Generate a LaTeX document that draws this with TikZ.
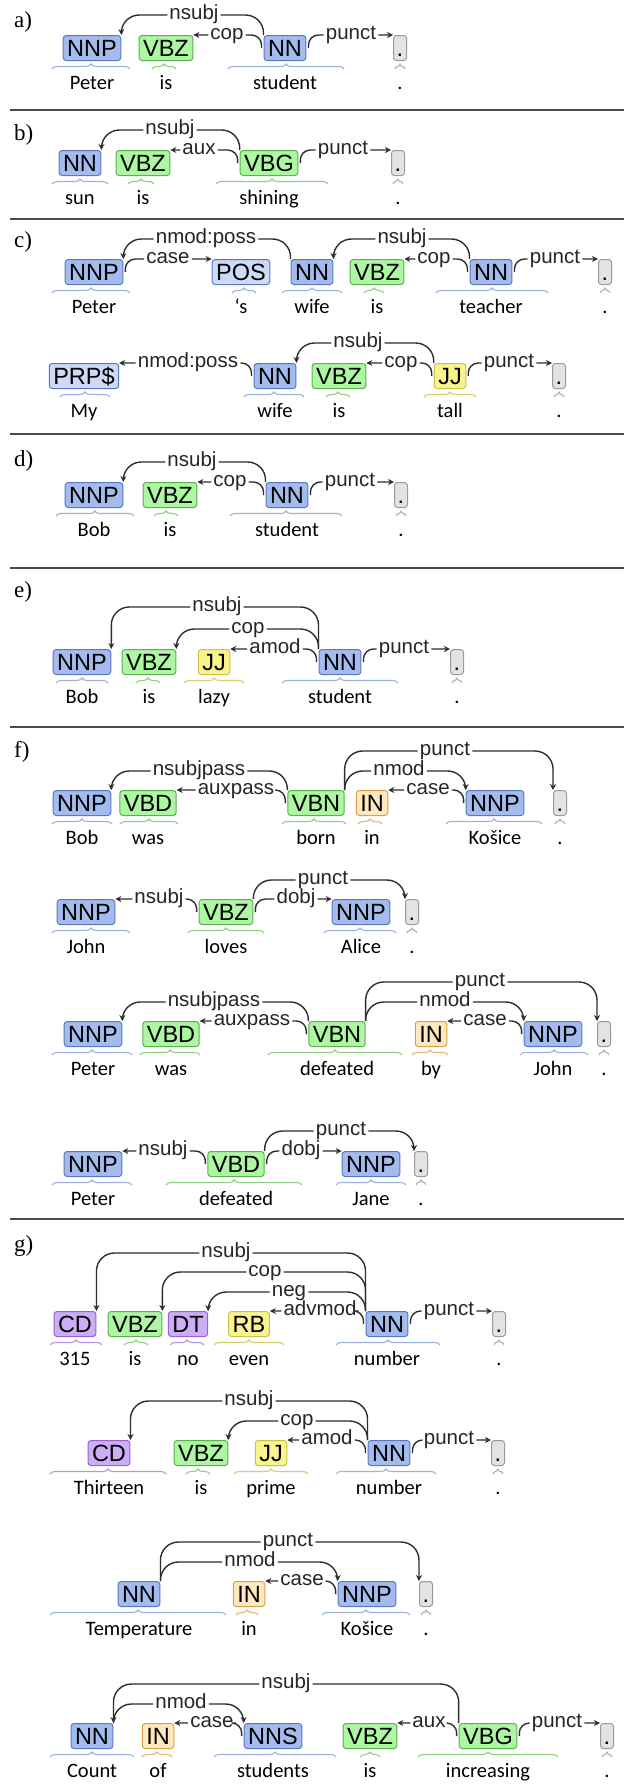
\documentclass[tikz,border=0pt]{standalone}
\usepackage{fontspec}
\setmainfont{Carlito}
\newfontfamily\lsans{Liberation Sans}
\newfontfamily\lserif{Liberation Serif}
\usetikzlibrary{arrows.meta, decorations.pathreplacing}

\newcommand\tagfnt{\lsans\fontsize{23.5}{24}\selectfont}
\newcommand\lblfnt{\lsans\fontsize{20.5}{21}\selectfont}
\newcommand\wordfnt{\fontsize{20.5}{21}\selectfont}
\newcommand\secfnt{\lserif\fontsize{23}{24}\selectfont}

\definecolor{nnfill}{HTML}{A4BCED}
\definecolor{nndraw}{HTML}{5A78C0}
\definecolor{nnbrace}{HTML}{9EB2DC}
\definecolor{posfill}{HTML}{CCDAF6}
\definecolor{vbfill}{HTML}{ADF6A2}
\definecolor{vbdraw}{HTML}{5CB050}
\definecolor{vbbrace}{HTML}{8ED082}
\definecolor{jjfill}{HTML}{F9F58C}
\definecolor{jjdraw}{HTML}{C8C050}
\definecolor{jjbrace}{HTML}{D6CF6A}
\definecolor{infill}{HTML}{FFE8BE}
\definecolor{indraw}{HTML}{D8A048}
\definecolor{inbrace}{HTML}{E2B878}
\definecolor{cdfill}{HTML}{CCADF6}
\definecolor{cddraw}{HTML}{9A62D0}
\definecolor{cdbrace}{HTML}{B996E2}
\definecolor{ptfill}{HTML}{E3E3E3}
\definecolor{ptdraw}{HTML}{9A9A9A}
\definecolor{ptbrace}{HTML}{B0B0B0}
\definecolor{arccol}{HTML}{2E2E2E}

\tikzset{
  tag/.style={draw, rounded corners=3pt, line width=1pt, font=\tagfnt,
    text height=17pt, text depth=0pt, inner xsep=4pt, inner ysep=4pt},
  blue tag/.style={tag, fill=nnfill, draw=nndraw},
  pale tag/.style={tag, fill=posfill, draw=nndraw},
  green tag/.style={tag, fill=vbfill, draw=vbdraw},
  yellow tag/.style={tag, fill=jjfill, draw=jjdraw},
  orange tag/.style={tag, fill=infill, draw=indraw},
  purple tag/.style={tag, fill=cdfill, draw=cddraw},
  gray tag/.style={tag, fill=ptfill, draw=ptdraw, minimum width=13pt, inner xsep=0pt},
  tokbrace/.style={decorate, decoration={brace, amplitude=5pt}, line width=1.1pt},
  blue brace/.style={tokbrace, draw=nnbrace},
  pale brace/.style={tokbrace, draw=nnbrace},
  green brace/.style={tokbrace, draw=vbbrace},
  yellow brace/.style={tokbrace, draw=jjbrace},
  orange brace/.style={tokbrace, draw=inbrace},
  purple brace/.style={tokbrace, draw=cdbrace},
  gray brace/.style={tokbrace, draw=ptbrace},
  word/.style={font=\wordfnt, anchor=base, inner sep=0pt},
  deplbl/.style={font=\lblfnt, text=black!85, inner xsep=2pt, inner ysep=0pt,
    text height=13pt, text depth=4pt},
  deparc/.style={draw=arccol, line width=1.4pt, rounded corners=10pt,
    -{Stealth[length=6pt,width=6pt]}},
  secline/.style={line width=1.3pt, draw=black!70},
  seclbl/.style={font=\secfnt, anchor=west, inner sep=0pt}
}

% tag box, word and brace of one token: name, colour, x, tag, word, brace from, brace to
\newcommand\tagword[7]{%
  \node[#2 tag] (#1) at (#3,\ty) {#4};
  \node[word] (#1w) at (#3,\ty+41) {#5};
  \draw[#2 brace] (#6,\ty+21) -- (#7,\ty+21);}
% arcs: head, label, dependent
\newcommand\arcup[3]{\draw[deparc, rounded corners=18pt] (#1.north west) |- (#2) -| (#3.north east);}
\newcommand\arcupR[3]{\draw[deparc, rounded corners=18pt] (#1.north east) |- (#2) -| (#3.north west);}
\newcommand\arcflat[3]{\draw[deparc] ([xshift=-2pt]#1.west) |- (#2) -- (#3.north east |- #2);}
\newcommand\arcflatR[3]{\draw[deparc] ([xshift=2pt]#1.east) |- (#2) -- (#3.north west |- #2);}

\begin{document}
\begin{tikzpicture}[x=1pt, y=-1pt]
  \fill[white] (0,0) rectangle (624,1791);
  \useasboundingbox (0,0) rectangle (624,1791);

  % section labels and rules
  \node[seclbl] (sa) at (14,22) {a)};
  \node[seclbl] (sb) at (14,135) {b)};
  \node[seclbl] (sc) at (14,242) {c)};
  \node[seclbl] (sd) at (14,461) {d)};
  \node[seclbl] (se) at (14,592) {e)};
  \node[seclbl] (sf) at (14,752) {f)};
  \node[seclbl] (sg) at (14,1246) {g)};
  \foreach \ly in {110,219,434,568,727,1219}
    \draw[secline] (10,\ly) -- (624,\ly);

  % a) Peter is student .
  \def\ty{48}
  \tagword{a1}{blue}{92}{NNP}{Peter}{52}{130}
  \tagword{a2}{green}{166}{VBZ}{is}{152}{176}
  \tagword{a3}{blue}{285}{NN}{student}{228}{344}
  \tagword{a4}{gray}{400}{.}{.}{395}{405}
  \node[deplbl] (a-nsubj) at (194,\ty-33) {nsubj};
  \node[deplbl] (a-cop) at (227,\ty-13) {cop};
  \node[deplbl] (a-punct) at (351,\ty-13) {punct};
  \arcup{a3}{a-nsubj}{a1}
  \arcflat{a3}{a-cop}{a2}
  \arcflatR{a3}{a-punct}{a4}

  % b) sun is shining .
  \def\ty{163}
  \tagword{b1}{blue}{80}{NN}{sun}{52}{108}
  \tagword{b2}{green}{143}{VBZ}{is}{128}{154}
  \tagword{b3}{green}{269}{VBG}{shining}{216}{328}
  \tagword{b4}{gray}{398}{.}{.}{393}{403}
  \node[deplbl] (b-nsubj) at (170,\ty-33) {nsubj};
  \node[deplbl] (b-aux) at (199,\ty-13) {aux};
  \node[deplbl] (b-punct) at (343,\ty-13) {punct};
  \arcup{b3}{b-nsubj}{b1}
  \arcflat{b3}{b-aux}{b2}
  \arcflatR{b3}{b-punct}{b4}

  % c) Peter 's wife is teacher .
  \def\ty{272}
  \tagword{c1}{blue}{94}{NNP}{Peter}{52}{130}
  \tagword{c2}{pale}{241}{POS}{‘s}{232}{256}
  \tagword{c3}{blue}{312}{NN}{wife}{282}{342}
  \tagword{c4}{green}{377}{VBZ}{is}{364}{384}
  \tagword{c5}{blue}{491}{NN}{teacher}{436}{548}
  \tagword{c6}{gray}{605}{.}{.}{600}{610}
  \node[deplbl] (c-poss) at (206,\ty-33) {nmod:poss};
  \node[deplbl] (c-case) at (168,\ty-13) {case};
  \node[deplbl] (c-nsubj) at (402,\ty-33) {nsubj};
  \node[deplbl] (c-cop) at (434,\ty-13) {cop};
  \node[deplbl] (c-punct) at (555,\ty-13) {punct};
  \arcup{c3}{c-poss}{c1}
  \arcflatR{c1}{c-case}{c2}
  \arcup{c5}{c-nsubj}{c3}
  \arcflat{c5}{c-cop}{c4}
  \arcflatR{c5}{c-punct}{c6}

  % c) My wife is tall .
  \def\ty{376}
  \tagword{k1}{pale}{84}{PRP\$}{My}{60}{110}
  \tagword{k2}{blue}{275}{NN}{wife}{244}{304}
  \tagword{k3}{green}{339}{VBZ}{is}{326}{350}
  \tagword{k4}{yellow}{450}{JJ}{tall}{424}{476}
  \tagword{k5}{gray}{559}{.}{.}{554}{564}
  \node[deplbl] (k-poss) at (188,\ty-13) {nmod:poss};
  \node[deplbl] (k-nsubj) at (358,\ty-33) {nsubj};
  \node[deplbl] (k-cop) at (401,\ty-13) {cop};
  \node[deplbl] (k-punct) at (509,\ty-13) {punct};
  \arcflat{k2}{k-poss}{k1}
  \arcup{k4}{k-nsubj}{k2}
  \arcflat{k4}{k-cop}{k3}
  \arcflatR{k4}{k-punct}{k5}

  % d) Bob is student .
  \def\ty{495}
  \tagword{d1}{blue}{94}{NNP}{Bob}{56}{134}
  \tagword{d2}{green}{170}{VBZ}{is}{154}{178}
  \tagword{d3}{blue}{287}{NN}{student}{230}{342}
  \tagword{d4}{gray}{401}{.}{.}{396}{406}
  \node[deplbl] (d-nsubj) at (192,\ty-33) {nsubj};
  \node[deplbl] (d-cop) at (230,\ty-13) {cop};
  \node[deplbl] (d-punct) at (350,\ty-13) {punct};
  \arcup{d3}{d-nsubj}{d1}
  \arcflat{d3}{d-cop}{d2}
  \arcflatR{d3}{d-punct}{d4}

  % e) Bob is lazy student .
  \def\ty{662}
  \tagword{e1}{blue}{82}{NNP}{Bob}{56}{108}
  \tagword{e2}{green}{149}{VBZ}{is}{136}{160}
  \tagword{e3}{yellow}{214}{JJ}{lazy}{184}{244}
  \tagword{e4}{blue}{340}{NN}{student}{282}{398}
  \tagword{e5}{gray}{457}{.}{.}{452}{462}
  \node[deplbl] (e-nsubj) at (217,\ty-55) {nsubj};
  \node[deplbl] (e-cop) at (248,\ty-33) {cop};
  \node[deplbl] (e-amod) at (275,\ty-13) {amod};
  \node[deplbl] (e-punct) at (404,\ty-13) {punct};
  \arcup{e4}{e-nsubj}{e1}
  \arcup{e4}{e-cop}{e2}
  \arcflat{e4}{e-amod}{e3}
  \arcflatR{e4}{e-punct}{e5}

  % f) Bob was born in Kosice .
  \def\ty{803}
  \tagword{f1}{blue}{82}{NNP}{Bob}{52}{112}
  \tagword{f2}{green}{148}{VBD}{was}{120}{178}
  \tagword{f3}{green}{316}{VBN}{born}{282}{346}
  \tagword{f4}{orange}{372}{IN}{in}{358}{382}
  \tagword{f5}{blue}{495}{NNP}{Košice}{446}{542}
  \tagword{f6}{gray}{560}{.}{.}{555}{565}
  \node[deplbl] (f-punct) at (445,\ty-52) {punct};
  \node[deplbl] (f-nmod) at (399,\ty-32) {nmod};
  \node[deplbl] (f-case) at (428,\ty-13) {case};
  \node[deplbl] (f-nsubjpass) at (199,\ty-32) {nsubjpass};
  \node[deplbl] (f-auxpass) at (236,\ty-13) {auxpass};
  \arcupR{f3}{f-punct}{f6}
  \arcupR{f3}{f-nmod}{f5}
  \arcflat{f5}{f-case}{f4}
  \arcup{f3}{f-nsubjpass}{f1}
  \arcflat{f3}{f-auxpass}{f2}

  % John loves Alice .
  \def\ty{912}
  \tagword{h1}{blue}{86}{NNP}{John}{52}{130}
  \tagword{h2}{green}{226}{VBZ}{loves}{188}{264}
  \tagword{h3}{blue}{361}{NNP}{Alice}{324}{396}
  \tagword{h4}{gray}{412}{.}{.}{407}{417}
  \node[deplbl] (h-punct) at (323,\ty-32) {punct};
  \node[deplbl] (h-nsubj) at (159,\ty-13) {nsubj};
  \node[deplbl] (h-dobj) at (296,\ty-13) {dobj};
  \arcupR{h2}{h-punct}{h4}
  \arcflat{h2}{h-nsubj}{h1}
  \arcflatR{h2}{h-dobj}{h3}

  % Peter was defeated by John .
  \def\ty{1034}
  \tagword{i1}{blue}{93}{NNP}{Peter}{52}{132}
  \tagword{i2}{green}{171}{VBD}{was}{140}{200}
  \tagword{i3}{green}{337}{VBN}{defeated}{268}{402}
  \tagword{i4}{orange}{431}{IN}{by}{412}{448}
  \tagword{i5}{blue}{553}{NNP}{John}{520}{588}
  \tagword{i6}{gray}{604}{.}{.}{599}{609}
  \node[deplbl] (i-punct) at (480,\ty-52) {punct};
  \node[deplbl] (i-nmod) at (445,\ty-32) {nmod};
  \node[deplbl] (i-case) at (485,\ty-13) {case};
  \node[deplbl] (i-nsubjpass) at (214,\ty-32) {nsubjpass};
  \node[deplbl] (i-auxpass) at (252,\ty-13) {auxpass};
  \arcupR{i3}{i-punct}{i6}
  \arcupR{i3}{i-nmod}{i5}
  \arcflat{i5}{i-case}{i4}
  \arcup{i3}{i-nsubjpass}{i1}
  \arcflat{i3}{i-auxpass}{i2}

  % Peter defeated Jane .
  \def\ty{1164}
  \tagword{j1}{blue}{93}{NNP}{Peter}{52}{132}
  \tagword{j2}{green}{236}{VBD}{defeated}{166}{302}
  \tagword{j3}{blue}{371}{NNP}{Jane}{336}{406}
  \tagword{j4}{gray}{421}{.}{.}{416}{426}
  \node[deplbl] (j-punct) at (341,\ty-33) {punct};
  \node[deplbl] (j-nsubj) at (163,\ty-13) {nsubj};
  \node[deplbl] (j-dobj) at (301,\ty-13) {dobj};
  \arcupR{j2}{j-punct}{j4}
  \arcflat{j2}{j-nsubj}{j1}
  \arcflatR{j2}{j-dobj}{j3}

  % g) 315 is no even number .
  \def\ty{1324}
  \tagword{g1}{purple}{75}{CD}{315}{50}{102}
  \tagword{g2}{green}{135}{VBZ}{is}{124}{148}
  \tagword{g3}{purple}{188}{DT}{no}{170}{204}
  \tagword{g4}{yellow}{249}{RB}{even}{214}{284}
  \tagword{g5}{blue}{387}{NN}{number}{336}{440}
  \tagword{g6}{gray}{499}{.}{.}{494}{504}
  \node[deplbl] (g-nsubj) at (226,\ty-71) {nsubj};
  \node[deplbl] (g-cop) at (265,\ty-52) {cop};
  \node[deplbl] (g-neg) at (289,\ty-32) {neg};
  \node[deplbl] (g-advmod) at (320,\ty-13) {advmod};
  \node[deplbl] (g-punct) at (449,\ty-13) {punct};
  \arcup{g5}{g-nsubj}{g1}
  \arcup{g5}{g-cop}{g2}
  \arcup{g5}{g-neg}{g3}
  \arcflat{g5}{g-advmod}{g4}
  \arcflatR{g5}{g-punct}{g6}

  % Thirteen is prime number .
  \def\ty{1453}
  \tagword{m1}{purple}{109}{CD}{Thirteen}{50}{166}
  \tagword{m2}{green}{201}{VBZ}{is}{186}{210}
  \tagword{m3}{yellow}{271}{JJ}{prime}{234}{308}
  \tagword{m4}{blue}{389}{NN}{number}{336}{436}
  \tagword{m5}{gray}{498}{.}{.}{493}{503}
  \node[deplbl] (m-nsubj) at (249,\ty-52) {nsubj};
  \node[deplbl] (m-cop) at (297,\ty-32) {cop};
  \node[deplbl] (m-amod) at (327,\ty-13) {amod};
  \node[deplbl] (m-punct) at (449,\ty-13) {punct};
  \arcup{m4}{m-nsubj}{m1}
  \arcup{m4}{m-cop}{m2}
  \arcflat{m4}{m-amod}{m3}
  \arcflatR{m4}{m-punct}{m5}

  % Temperature in Kosice .
  \def\ty{1594}
  \tagword{n1}{blue}{139}{NN}{Temperature}{50}{226}
  \tagword{n2}{orange}{249}{IN}{in}{236}{258}
  \tagword{n3}{blue}{367}{NNP}{Košice}{322}{410}
  \tagword{n4}{gray}{426}{.}{.}{421}{431}
  \node[deplbl] (n-punct) at (288,\ty-52) {punct};
  \node[deplbl] (n-nmod) at (250,\ty-32) {nmod};
  \node[deplbl] (n-case) at (302,\ty-13) {case};
  \arcupR{n1}{n-punct}{n4}
  \arcupR{n1}{n-nmod}{n3}
  \arcflat{n3}{n-case}{n2}

  % Count of students is increasing .
  \def\ty{1736}
  \tagword{p1}{blue}{92}{NN}{Count}{50}{134}
  \tagword{p2}{orange}{158}{IN}{of}{142}{172}
  \tagword{p3}{blue}{273}{NNS}{students}{214}{336}
  \tagword{p4}{green}{370}{VBZ}{is}{360}{380}
  \tagword{p5}{green}{488}{VBG}{increasing}{418}{558}
  \tagword{p6}{gray}{607}{.}{.}{602}{612}
  \node[deplbl] (p-nsubj) at (286,\ty-52) {nsubj};
  \node[deplbl] (p-nmod) at (181,\ty-32) {nmod};
  \node[deplbl] (p-case) at (212,\ty-13) {case};
  \node[deplbl] (p-aux) at (429,\ty-13) {aux};
  \node[deplbl] (p-punct) at (557,\ty-13) {punct};
  \arcup{p5}{p-nsubj}{p1}
  \arcupR{p1}{p-nmod}{p3}
  \arcflat{p3}{p-case}{p2}
  \arcflat{p5}{p-aux}{p4}
  \arcflatR{p5}{p-punct}{p6}
\end{tikzpicture}
\end{document}
